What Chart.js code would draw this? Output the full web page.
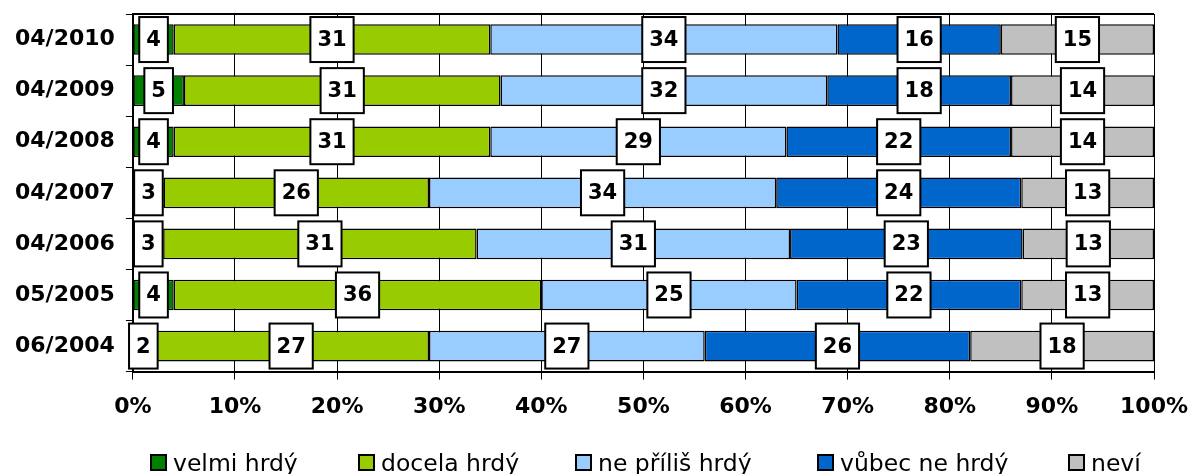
<!DOCTYPE html>
<html>
<head>
<meta charset="utf-8">
<script src="https://cdn.jsdelivr.net/npm/chart.js@4.4.1/dist/chart.umd.min.js"></script>
<style>
    html, body { margin: 0; padding: 0; background: #fff; }
    #wrap { position: relative; width: 1192px; height: 474px; overflow: hidden; }
    .legend-item { position: absolute; top: 452px; font: 23.5px "DejaVu Sans", Verdana, sans-serif; line-height: 23px; white-space: nowrap; color: #000; }
    .legend-box { display: inline-block; width: 13px; height: 13px; border: 2px solid #000; margin-right: 6px; }
</style>
</head>
<body>
<div id="wrap">
    <canvas id="myChart" width="1192" height="474"></canvas>
</div>
<script>
const categories = ['04/2010', '04/2009', '04/2008', '04/2007', '04/2006', '05/2005', '06/2004'];
const seriesNames = ['velmi hrdý', 'docela hrdý', 'ne příliš hrdý', 'vůbec ne hrdý', 'neví'];
const velmiHrdy = [4, 5, 4, 3, 3, 4, 2];
const docelaHrdy = [31, 31, 31, 26, 31, 36, 27];
const nePrilisHrdy = [34, 32, 29, 34, 31, 25, 27];
const vubecNeHrdy = [16, 18, 22, 24, 23, 22, 26];
const nevi = [15, 14, 14, 13, 13, 13, 18];
const xTickLabels = ['0%', '10%', '20%', '30%', '40%', '50%', '60%', '70%', '80%', '90%', '100%'];

const colors = ['#008000', '#99CC00', '#99CCFF', '#0066CC', '#C0C0C0'];
const legendLeft = [150, 358, 575, 817, 1068];
const series = [velmiHrdy, docelaHrdy, nePrilisHrdy, vubecNeHrdy, nevi];

// 100% stack: each row is scaled to its own total (04/2006 adds up to 101)
const totals = categories.map((c, i) => series.reduce((s, arr) => s + arr[i], 0));

const axisFont = {family: '"DejaVu Sans", Verdana, sans-serif', size: 22, weight: 'bold'};

const plotBorder = {
    id: 'plotBorder',
    beforeDatasetsDraw(chart) {
        const {ctx, chartArea} = chart;
        ctx.save();
        ctx.strokeStyle = '#000';
        ctx.lineWidth = 2;
        ctx.beginPath();
        ctx.moveTo(chartArea.left, chartArea.top);
        ctx.lineTo(chartArea.right, chartArea.top);
        ctx.stroke();
        ctx.restore();
    }
};

const boxLabels = {
    id: 'boxLabels',
    afterDatasetsDraw(chart) {
        const ctx = chart.ctx;
        ctx.save();
        ctx.font = 'bold 21px "DejaVu Sans", Verdana, sans-serif';
        ctx.textAlign = 'center';
        ctx.textBaseline = 'middle';
        chart.data.datasets.forEach((ds, i) => {
            chart.getDatasetMeta(i).data.forEach((bar, j) => {
                const x = (bar.x + bar.base) / 2;
                const y = bar.y;
                const text = String(ds.raw[j]);
                const w = ctx.measureText(text).width + 14;
                const h = 45;
                ctx.fillStyle = '#fff';
                ctx.fillRect(x - w / 2, y - h / 2, w, h);
                ctx.strokeStyle = '#000';
                ctx.lineWidth = 2;
                ctx.strokeRect(x - w / 2, y - h / 2, w, h);
                ctx.fillStyle = '#000';
                ctx.fillText(text, x, y + 1);
            });
        });
        ctx.restore();
    }
};

const ctx = document.getElementById('myChart');
const chart = new Chart(ctx, {
    type: 'bar',
    data: {
        labels: categories,
        datasets: series.map((arr, i) => ({
            label: seriesNames[i],
            raw: arr,
            data: arr.map((v, j) => v / totals[j] * 100),
            backgroundColor: colors[i],
            borderColor: '#000',
            borderWidth: 1.5,
            borderSkipped: false,
            categoryPercentage: 1,
            barPercentage: 0.6
        }))
    },
    options: {
        indexAxis: 'y',
        responsive: false,
        animation: false,
        layout: {padding: {top: 14, right: 38, bottom: 40, left: 4}},
        plugins: {
            legend: {display: false},
            tooltip: {enabled: false}
        },
        scales: {
            x: {
                stacked: true,
                min: 0,
                max: 100,
                ticks: {
                    stepSize: 10,
                    color: '#000',
                    font: axisFont,
                    padding: 14,
                    maxRotation: 0,
                    callback: (v, i) => xTickLabels[i]
                },
                grid: {color: '#000', lineWidth: 1, tickLength: 8},
                border: {color: '#000', width: 2},
                afterFit: (scale) => { scale.paddingRight = 0; }
            },
            y: {
                stacked: true,
                ticks: {color: '#000', font: axisFont, padding: 11},
                grid: {offset: true, drawOnChartArea: false, color: '#000', tickLength: 7},
                border: {color: '#000', width: 2},
                afterFit: (scale) => { scale.paddingTop = 0; scale.paddingBottom = 0; }
            }
        }
    },
    plugins: [plotBorder, boxLabels]
});

const wrap = document.getElementById('wrap');
seriesNames.forEach((name, i) => {
    const item = document.createElement('div');
    item.className = 'legend-item';
    item.style.left = legendLeft[i] + 'px';
    const box = document.createElement('span');
    box.className = 'legend-box';
    box.style.background = colors[i];
    item.appendChild(box);
    item.appendChild(document.createTextNode(name));
    wrap.appendChild(item);
});
</script>
</body>
</html>
